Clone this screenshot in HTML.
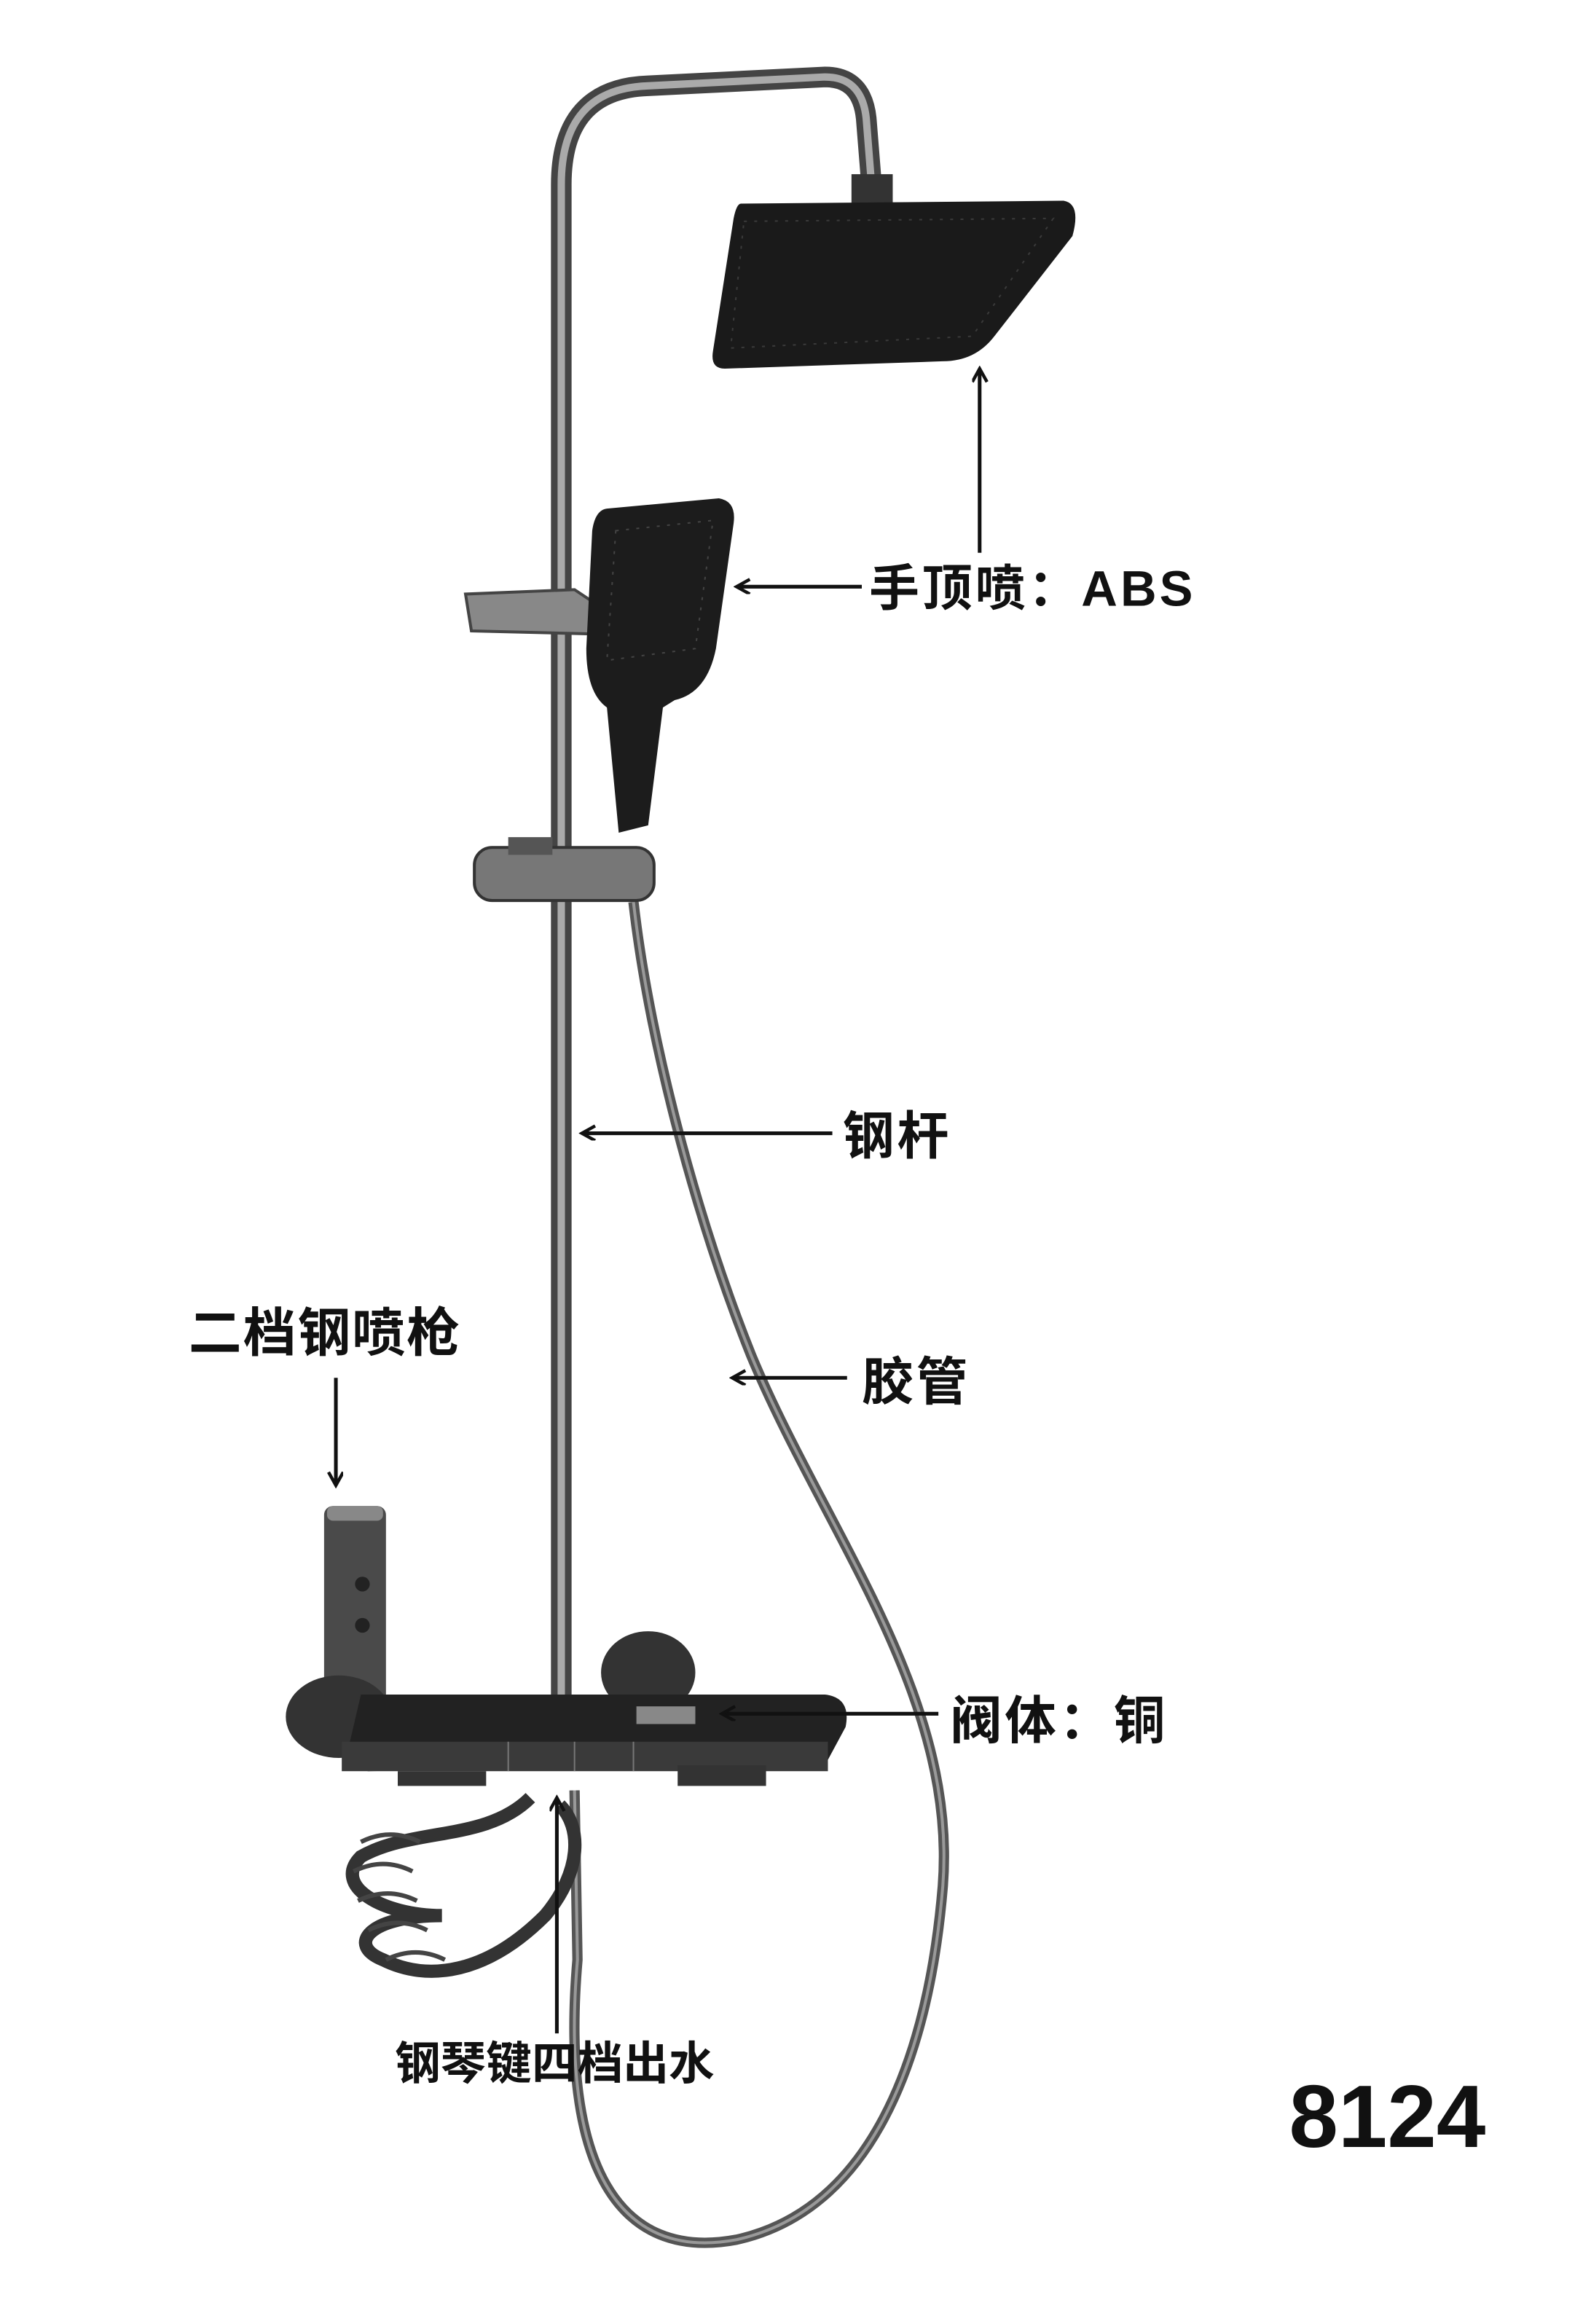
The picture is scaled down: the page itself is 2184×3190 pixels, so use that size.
<!DOCTYPE html>
<html><head><meta charset="utf-8"><style>
html,body{margin:0;padding:0;background:#fff;}
svg{display:block;}
text{font-family:"Liberation Sans","Noto Sans CJK SC",sans-serif;font-weight:bold;fill:#111;}
</style></head><body>
<svg width="2184" height="3190" viewBox="0 0 1080 1577" xmlns="http://www.w3.org/2000/svg">
<defs>
<marker id="ah" markerWidth="12" markerHeight="12" refX="10" refY="5" orient="auto" markerUnits="userSpaceOnUse"><path d="M1,0 L10,5 L1,10" fill="none" stroke="#111" stroke-width="2.2"/></marker>
</defs>
<path d="M430,612 C440,700 470,820 510,920 C560,1040 650,1150 640,1280 C630,1400 590,1500 500,1520 C420,1535 380,1470 392,1330 L390,1215" fill="none" stroke="#555" stroke-width="7"/>
<path d="M430,612 C440,700 470,820 510,920 C560,1040 650,1150 640,1280 C630,1400 590,1500 500,1520 C420,1535 380,1470 392,1330 L390,1215" fill="none" stroke="#999" stroke-width="2"/>
<path d="M381,1165 L381,125 Q381,60 440,58 L560,52 Q585,52 588,80 L592,130" fill="none" stroke="#444" stroke-width="14"/>
<path d="M381,1165 L381,125 Q381,60 440,58 L560,52 Q585,52 588,80 L592,130" fill="none" stroke="#aaa" stroke-width="5"/>
<rect x="578" y="118" width="28" height="20" fill="#333"/>
<path d="M503,138 L722,136 Q734,138 728,160 L675,228 Q662,245 640,245 L492,250 Q482,250 484,238 L498,148 Q500,138 503,138Z" fill="#1a1a1a"/>
<path d="M505,150 L715,148 L660,228 L496,236Z" fill="none" stroke="#3a3a3a" stroke-width="1" stroke-dasharray="2 5"/>
<path d="M316,403 L390,400 L408,412 L400,430 L320,428Z" fill="#888" stroke="#444" stroke-width="2"/>
<path d="M412,345 L488,338 Q500,340 498,355 L486,440 Q480,470 458,475 L450,480 L440,560 L420,565 L412,480 Q398,470 398,440 L402,360 Q404,346 412,345Z" fill="#1c1c1c"/>
<path d="M418,360 L484,353 L472,440 L412,448Z" fill="none" stroke="#444" stroke-width="1" stroke-dasharray="2 5"/>
<rect x="322" y="575" width="122" height="36" rx="12" fill="#777" stroke="#333" stroke-width="2"/>
<rect x="345" y="568" width="30" height="12" fill="#555"/>
<rect x="220" y="1022" width="42" height="170" rx="6" fill="#4a4a4a"/>
<rect x="222" y="1022" width="38" height="10" rx="4" fill="#888"/>
<circle cx="246" cy="1075" r="5" fill="#222"/><circle cx="246" cy="1103" r="5" fill="#222"/>
<ellipse cx="230" cy="1165" rx="36" ry="28" fill="#333"/>
<ellipse cx="440" cy="1135" rx="32" ry="28" fill="#333"/>
<path d="M245,1150 L560,1150 Q578,1152 574,1172 L560,1198 L250,1202 Q232,1200 238,1180Z" fill="#222"/>
<rect x="232" y="1182" width="330" height="20" fill="#3a3a3a"/>
<line x1="345" y1="1182" x2="345" y2="1202" stroke="#777"/><line x1="390" y1="1182" x2="390" y2="1202" stroke="#777"/><line x1="430" y1="1182" x2="430" y2="1202" stroke="#777"/>
<rect x="270" y="1202" width="60" height="10" fill="#333"/>
<rect x="460" y="1198" width="60" height="14" fill="#333"/>
<rect x="432" y="1158" width="40" height="12" fill="#888"/>
<g fill="none" stroke="#333" stroke-width="9">
<path d="M360,1220 C330,1250 280,1240 245,1260 C225,1280 260,1300 300,1300 C250,1300 235,1320 260,1330 C290,1345 330,1340 370,1300 C395,1270 395,1240 380,1225"/>
</g>
<g fill="none" stroke="#444" stroke-width="3">
<path d="M245,1250 q20,-10 40,0"/><path d="M240,1270 q20,-10 40,0"/><path d="M243,1290 q20,-10 40,0"/><path d="M250,1310 q20,-10 40,0"/><path d="M262,1330 q20,-10 40,0"/>
</g>
<g stroke="#111" stroke-width="2.5" fill="none">
<line x1="665" y1="375" x2="665" y2="250" marker-end="url(#ah)"/>
<line x1="585" y1="398" x2="500" y2="398" marker-end="url(#ah)"/>
<line x1="565" y1="769" x2="395" y2="769" marker-end="url(#ah)"/>
<line x1="575" y1="935" x2="497" y2="935" marker-end="url(#ah)"/>
<line x1="228" y1="935" x2="228" y2="1008" marker-end="url(#ah)"/>
<line x1="637" y1="1163" x2="490" y2="1163" marker-end="url(#ah)"/>
<line x1="378" y1="1380" x2="378" y2="1220" marker-end="url(#ah)"/>
</g>
<text x="590" y="411" font-size="34" letter-spacing="2">手顶喷：ABS</text>
<text x="572" y="783" font-size="35" letter-spacing="2">钢杆</text>
<text x="585" y="950" font-size="35" letter-spacing="2">胶管</text>
<text x="128" y="917" font-size="36" letter-spacing="1">二档钢喷枪</text>
<text x="645" y="1180" font-size="35" letter-spacing="2">阀体：铜</text>
<text x="268" y="1411" font-size="31">钢琴键四档出水</text>
<text x="875" y="1457" font-size="60">8124</text>
</svg>
</body></html>
